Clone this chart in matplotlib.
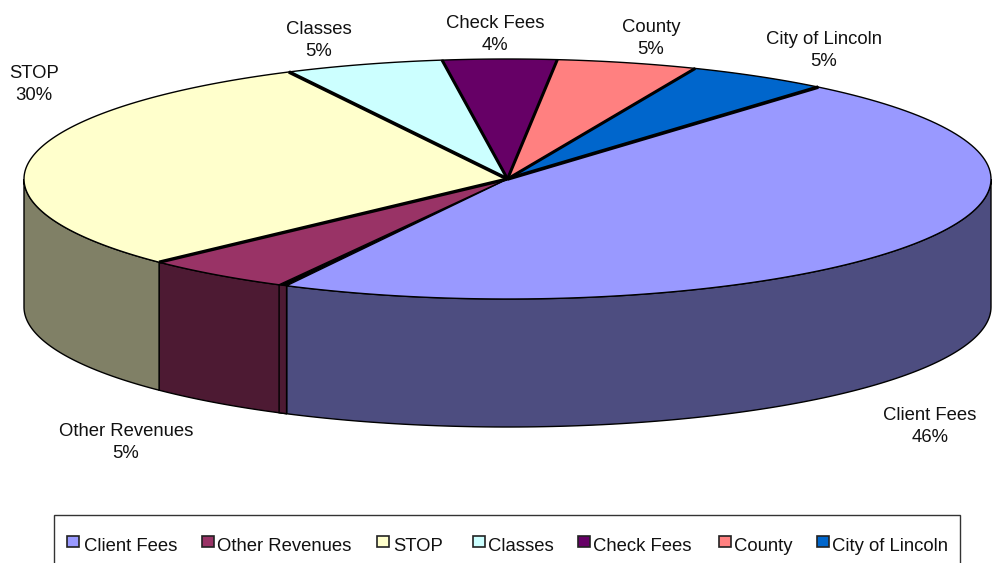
import numpy as np
import matplotlib
matplotlib.use('Agg')
import matplotlib.pyplot as plt
from matplotlib.patches import Polygon, Rectangle

plt.rcParams['font.family'] = ['Liberation Sans', 'DejaVu Sans']

# data
categories = ['Client Fees', 'Other Revenues', 'STOP', 'Classes', 'Check Fees', 'County', 'City of Lincoln']
values = [46.4, 5.25, 29.7, 5.3, 3.8, 4.7, 4.76]
pct_labels = ['46%', '5%', '30%', '5%', '4%', '5%', '5%']

colors = ['#9999FF', '#993366', '#FFFFCC', '#CCFFFF', '#660066', '#FF8080', '#0066CC']
wall_colors = ['#4D4D80', '#4D1A33', '#808066', '#668080', '#330033', '#804040', '#003366']

# label centres, pixels
label_pos = [(930, 416), (126, 432), (34, 74), (319, 29), (495, 23), (651, 27), (824, 39)]
# legend swatch / text x, pixels
legend_x = [(67, 84), (202, 217), (377, 393), (473, 488), (578, 593), (719, 734), (817, 832)]

# ── pie geometry ──────────────────────────────
CX, CY = 507.5, 179
RX, RY = 483.5, 120
DEPTH = 128
START = 50.0


def arc(a0, a1, drop=0, n=120):
    t = np.radians(np.linspace(a0, a1, n))
    return np.column_stack([CX + RX * np.cos(t), CY - RY * np.sin(t) + drop])


fig = plt.figure(figsize=(9.93, 5.63), dpi=100)
ax = fig.add_axes([0, 0, 1, 1])
ax.set_xlim(0, 993)
ax.set_ylim(563, 0)
ax.axis('off')

fracs = np.array(values) / sum(values) * 360
ends = START - np.cumsum(fracs)
starts = ends + fracs

# side walls, only the front half of the ellipse shows
for a0, a1, wc in zip(starts, ends, wall_colors):
    lo, hi = a1 % 360, a0 % 360
    if hi <= lo:
        hi += 360
    lo2, hi2 = max(lo, 180), min(hi, 360)
    if hi2 <= lo2:
        continue
    top = arc(hi2, lo2)
    bot = arc(lo2, hi2, DEPTH)
    ax.add_patch(Polygon(np.vstack([top, bot]), closed=True, fc=wc, ec='black', lw=1.0, zorder=2))

# small radial wall seen between Client Fees and Other Revenues
gap = 1.0
p_in = arc(ends[0] - gap, ends[0] - gap, n=1)[0]
p_out = arc(ends[0], ends[0], n=1)[0]
ax.add_patch(Polygon([p_in, p_out, p_out + [0, DEPTH], p_in + [0, DEPTH]], closed=True,
                     fc=wall_colors[1], ec='black', lw=1.0, zorder=3))
ax.add_patch(Polygon([[CX, CY], p_in, p_out], closed=True, fc='black', ec='black', lw=0.5, zorder=3))

# top faces
heavy = [0, 2.4, 2.6, 2.2, 2.2, 2.2, 2.6]
for i, (a0, a1, c) in enumerate(zip(starts, ends, colors)):
    a_st = a0 - gap if i == 1 else a0
    pts = np.vstack([[CX, CY], arc(a_st, a1)])
    ax.add_patch(Polygon(pts, closed=True, fc=c, ec='black', lw=1.0, joinstyle='round', zorder=4))
    if heavy[i]:
        # heavier line along the slice boundary
        p = arc(a1, a1, n=1)[0]
        ax.plot([CX, p[0]], [CY, p[1]], color='black', lw=heavy[i], solid_capstyle='butt', zorder=5)

# labels
for name, pct, (x, y) in zip(categories, pct_labels, label_pos):
    ax.text(x, y, name, ha='center', va='center', fontsize=13.3, color='#111111', zorder=6)
    ax.text(x, y + 22, pct, ha='center', va='center', fontsize=13.3, color='#111111', zorder=6)

# legend
ax.add_patch(Rectangle((53.5, 514.5), 906, 60, fc='white', ec='#333333', lw=1, zorder=1, clip_on=True))
for name, c, (sx, tx) in zip(categories, colors, legend_x):
    ax.add_patch(Rectangle((sx - 0.5, 536), 12, 11, fc=c, ec='#222222', lw=1.2, zorder=6))
    ax.text(tx, 546.5, name, ha='left', va='center', fontsize=13.3, color='#111111', zorder=6)

fig.savefig('out.png', dpi=100, facecolor='white')
plt.close(fig)
